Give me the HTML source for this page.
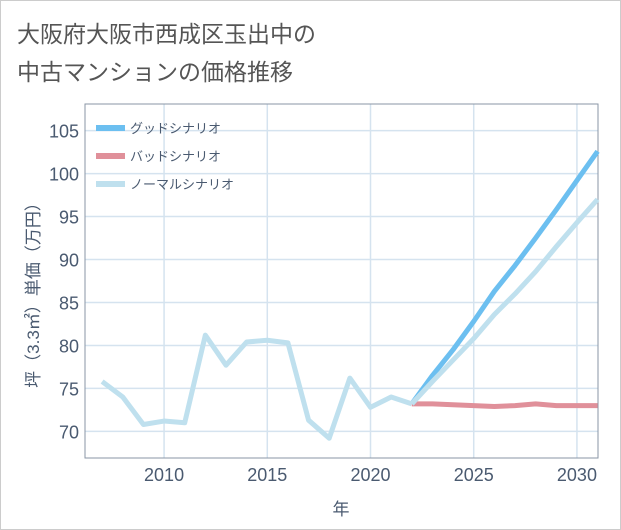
<!DOCTYPE html>
<html><head><meta charset="utf-8"><style>
body{margin:0;background:#fff;}
#wrap{position:relative;width:619px;height:528px;border:1px solid #ccc;background:#fff;font-family:"Liberation Sans","Noto Sans CJK JP",sans-serif;}
#title{position:absolute;left:16px;top:14px;font-size:23px;line-height:38px;color:#555;}
svg{position:absolute;left:0;top:0;}
</style></head><body>
<div id="wrap">
<div id="title">大阪府大阪市西成区玉出中の<br>中古マンションの価格推移</div>
<svg id="chart" width="619" height="528"></svg>
</div>
<script>
const histYears=[2007,2008,2009,2010,2011,2012,2013,2014,2015,2016,2017,2018,2019,2020,2021,2022];
const histValues=[75.8,74,70.8,71.2,71,81.2,77.7,80.4,80.6,80.3,71.3,69.2,76.2,72.8,74,73.2];
const projYears=[2022,2023,2024,2025,2026,2027,2028,2029,2030,2031];
const goodValues=[73.2,76.5,79.5,82.8,86.3,89.3,92.5,95.8,99.2,102.6];
const badValues=[73.2,73.2,73.1,73.0,72.9,73.0,73.2,73.0,73.0,73.0];
const normalValues=[73.2,75.8,78.3,80.8,83.6,86,88.6,91.5,94.3,97];
const yTicks=[70,75,80,85,90,95,100,105];
const xTicks=[2010,2015,2020,2025,2030];
const NS="http://www.w3.org/2000/svg";
const svg=document.getElementById('chart');
const L=84,R=597,T=103,B=457;
const xMin=2006.17,xMax=2031.02,yMin=66.9,yMax=108.1;
const x=v=>L+(v-xMin)/(xMax-xMin)*(R-L);
const y=v=>B-(v-yMin)/(yMax-yMin)*(B-T);
function mk(tag,attrs){const e=document.createElementNS(NS,tag);for(const k in attrs)e.setAttribute(k,attrs[k]);svg.appendChild(e);return e;}
yTicks.forEach(t=>{
 const g=mk('line',{x1:L,x2:R,y1:y(t),y2:y(t),stroke:'#d5e3ef','stroke-width':1.5});
 
 
 const tx=mk('text',{x:L-6,y:y(t)+7,'text-anchor':'end','font-size':18,fill:'#4a5a70'});
 tx.textContent=t;
 
 
});
xTicks.forEach(t=>{
 const g=mk('line',{x1:x(t),x2:x(t),y1:T,y2:B,stroke:'#d5e3ef','stroke-width':1.5});
 
 
 const tx=mk('text',{x:x(t),y:B+23,'text-anchor':'middle','font-size':18,fill:'#4a5a70'});
 tx.textContent=t;
 
 
});
const frame=mk('rect',{x:L,y:T,width:R-L,height:B-T,fill:'none',stroke:'#8a96a6','stroke-width':1});


function line(xs,vs,color,name){
 const p=mk('polyline',{points:xs.map((a,i)=>x(a)+','+y(vs[i])).join(' '),fill:'none',stroke:color,'stroke-width':5,'stroke-linejoin':'round'});
 
 
}
line(projYears,badValues,'#e0909a','bad-scenario-line');
line(projYears,goodValues,'#6cbff0','good-scenario-line');
line(projYears,normalValues,'#bfe0ee','normal-scenario-line');
line(histYears,histValues,'#bfe0ee','historical-line');
const legend=[['グッドシナリオ','#6cbff0'],['バッドシナリオ','#e0909a'],['ノーマルシナリオ','#bfe0ee']];
legend.forEach((l,i)=>{
 const yy=127+i*28;
 const s=mk('line',{x1:95,x2:124,y1:yy,y2:yy,stroke:l[1],'stroke-width':6});
 
 
 const t=mk('text',{x:129,y:yy+5,'font-size':13,fill:'#4a5a70'});
 t.textContent=l[0];
 
 
});
const xt=mk('text',{x:340,y:514,'text-anchor':'middle','font-size':17,fill:'#4a5a70'});
xt.textContent='年';


const yt=mk('text',{x:0,y:0,'text-anchor':'middle','font-size':17,fill:'#4a5a70',transform:'translate(38,290) rotate(-90)'});
yt.textContent='坪（3.3㎡）単価（万円）';


</script>
</body></html>
